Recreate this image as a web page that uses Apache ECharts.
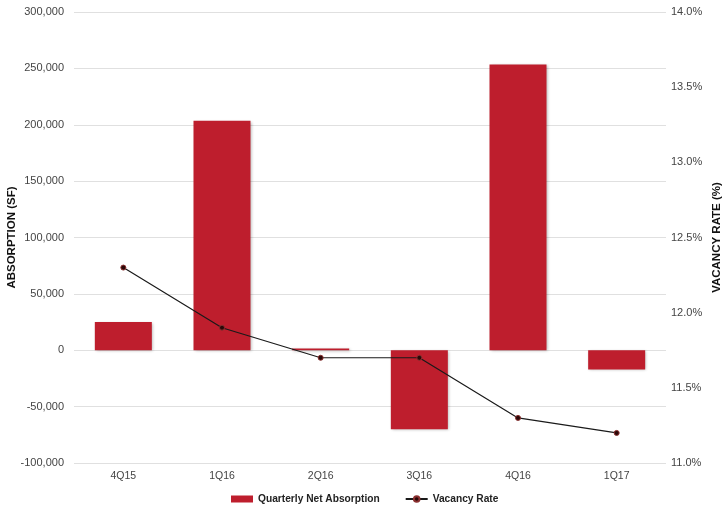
<!DOCTYPE html>
<html>
<head>
<meta charset="utf-8">
<script src="https://cdn.jsdelivr.net/npm/echarts@6/dist/echarts.min.js"></script>
<style>
html,body{margin:0;padding:0;background:#fff;}
#chart{width:722px;height:510px;}
</style>
</head>
<body>
<div id="chart"></div>
<script>
var categories = ['4Q15', '1Q16', '2Q16', '3Q16', '4Q16', '1Q17'];
var absorption = [25000, 203500, 1500, -70000, 253500, -17000];
var vacancy = [12.3, 11.9, 11.7, 11.7, 11.3, 11.2];

var chart = echarts.init(document.getElementById('chart'), null, {renderer: 'canvas'});
var font = 'Liberation Sans, Arial, sans-serif';
chart.setOption({
  animation: false,
  backgroundColor: '#ffffff',
  textStyle: {fontFamily: font},
  grid: {left: 74, right: 56, top: 12, bottom: 47, containLabel: false, outerBoundsMode: 'none'},
  legend: {
    bottom: 1,
    left: 226,
    itemWidth: 22,
    itemHeight: 7,
    itemGap: 25,
    textStyle: {fontFamily: font, fontSize: 10.2, fontWeight: 'bold', color: '#222'},
    data: [
      {name: 'Quarterly Net Absorption', icon: 'rect'},
      {name: 'Vacancy Rate'}
    ]
  },
  xAxis: {
    type: 'category',
    data: categories,
    axisLine: {show: false},
    axisTick: {show: false},
    axisLabel: {color: '#444', fontSize: 10.5, margin: 8, fontFamily: font}
  },
  yAxis: [
    {
      type: 'value',
      min: -100000, max: 300000, interval: 50000,
      name: 'ABSORPTION (SF)',
      nameLocation: 'middle',
      nameRotate: 90,
      nameGap: 56,
      nameMoveOverlap: false,
      nameTextStyle: {fontFamily: font, fontSize: 11.5, fontWeight: 'bold', color: '#111'},
      axisLine: {show: false},
      axisTick: {show: false},
      axisLabel: {color: '#444', fontSize: 11, margin: 10, fontFamily: font,
        formatter: function (v) { return v.toLocaleString('en-US'); }},
      splitLine: {lineStyle: {color: '#e0e0e0', width: 1}}
    },
    {
      type: 'value',
      min: 11, max: 14, interval: 0.5,
      position: 'right',
      name: 'VACANCY RATE (%)',
      nameLocation: 'middle',
      nameRotate: 90,
      nameGap: 45,
      nameMoveOverlap: false,
      nameTextStyle: {fontFamily: font, fontSize: 11.5, fontWeight: 'bold', color: '#111'},
      axisLine: {show: false},
      axisTick: {show: false},
      splitLine: {show: false},
      axisLabel: {color: '#444', fontSize: 11, margin: 5, fontFamily: font,
        formatter: function (v) { return v.toFixed(1) + '%'; }}
    }
  ],
  series: [
    {
      name: 'Quarterly Net Absorption',
      type: 'bar',
      yAxisIndex: 0,
      data: absorption,
      barWidth: 57,
      itemStyle: {
        color: '#be1e2d',
        shadowColor: 'rgba(0,0,0,0.3)',
        shadowBlur: 3,
        shadowOffsetX: 1,
        shadowOffsetY: 1
      }
    },
    {
      name: 'Vacancy Rate',
      type: 'line',
      yAxisIndex: 1,
      data: vacancy,
      symbol: 'circle',
      symbolSize: 5,
      lineStyle: {color: '#1a1a1a', width: 1.2},
      itemStyle: {color: '#2a0808', borderColor: '#8a3030', borderWidth: 1}
    }
  ]
});
</script>
</body>
</html>
